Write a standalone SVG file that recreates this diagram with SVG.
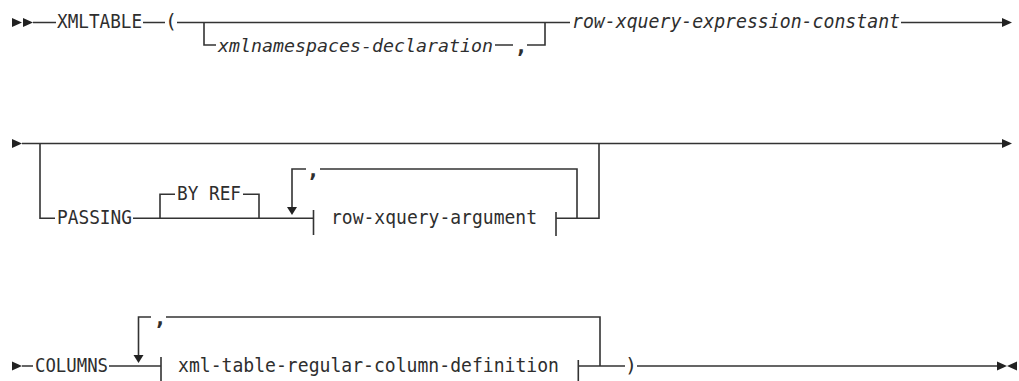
<svg xmlns="http://www.w3.org/2000/svg" width="1019" height="381" viewBox="0 0 1019 381">
<style>
.ln{fill:none;stroke:#333;stroke-width:1.6}
.ah{fill:#222;stroke:none}
.t{font-family:"DejaVu Sans Mono","Liberation Mono",monospace;font-size:20px;fill:#2e2e2e}
.i{font-style:italic}
.c{font-family:"DejaVu Sans Mono","Liberation Mono",monospace;font-size:22px;font-weight:bold;fill:#2e2e2e}
</style>
<rect width="1019" height="381" fill="#fff"/>
<g id="connectors">
  <path class="ln" d="M33 22.5H56M143 22.5H165M177 22.5H570M204 22.5V45H216M495 45H513M527 45H545V22.5M901 22.5H1002"/>
  <path class="ln" d="M22 143.5H1002M40 143.5V218.3H55M133 218.3H313M160 218.3V194.3H175M243 194.3H259V218.3M577 218.3V169H320M306 169H292V208M313.5 210V235M556 212V236M556 218.3H599V143.5"/>
  <path class="ln" d="M22 366H33M109 366H161M600 366V317H166M151 317H138.5V356M161 357V381M578.3 360V381M578 366H625M637 366H997"/>
  <polygon class="ah" points="12,18 22,22.5 12,27"/>
  <polygon class="ah" points="23,18 33,22.5 23,27"/>
  <polygon class="ah" points="1002,18 1012,22.5 1002,27"/>
  <polygon class="ah" points="12,139 22,143.5 12,148"/>
  <polygon class="ah" points="1002,139 1012,143.5 1002,148"/>
  <polygon class="ah" points="287,207 297,207 292,215"/>
  <polygon class="ah" points="12,361.5 22,366 12,370.5"/>
  <polygon class="ah" points="133.5,355 143.5,355 138.5,363"/>
  <polygon class="ah" points="997,361.5 1007,366 997,370.5"/>
  <polygon class="ah" points="1017,361.5 1007,366 1017,370.5"/>
</g>
<g id="n-xmltable"><text class="t" x="57" y="28" textLength="85" lengthAdjust="spacingAndGlyphs">XMLTABLE</text></g>
<g id="n-lparen"><text class="t" x="165" y="28">(</text></g>
<g id="n-xmlns"><text class="t i" x="218" y="51.7" style="font-size:18.5px" textLength="275" lengthAdjust="spacingAndGlyphs">xmlnamespaces-declaration</text></g>
<g id="n-comma1"><text class="c" x="521" y="53" text-anchor="middle">,</text></g>
<g id="n-rowexpr"><text class="t i" x="572" y="28" textLength="328" lengthAdjust="spacingAndGlyphs">row-xquery-expression-constant</text></g>
<g id="n-passing"><text class="t" x="57" y="224" textLength="75" lengthAdjust="spacingAndGlyphs">PASSING</text></g>
<g id="n-byref"><text class="t" x="177" y="200" textLength="64" lengthAdjust="spacingAndGlyphs">BY REF</text></g>
<g id="n-comma2"><text class="c" x="313" y="176.5" text-anchor="middle">,</text></g>
<g id="n-rowarg"><text class="t" x="331" y="224" textLength="206" lengthAdjust="spacingAndGlyphs">row-xquery-argument</text></g>
<g id="n-columns"><text class="t" x="35" y="371.7" textLength="73" lengthAdjust="spacingAndGlyphs">COLUMNS</text></g>
<g id="n-comma3"><text class="c" x="160" y="324.5" text-anchor="middle">,</text></g>
<g id="n-coldef"><text class="t" x="178" y="371.7" textLength="381" lengthAdjust="spacingAndGlyphs">xml-table-regular-column-definition</text></g>
<g id="n-rparen"><text class="t" x="625" y="371.7">)</text></g>
</svg>
